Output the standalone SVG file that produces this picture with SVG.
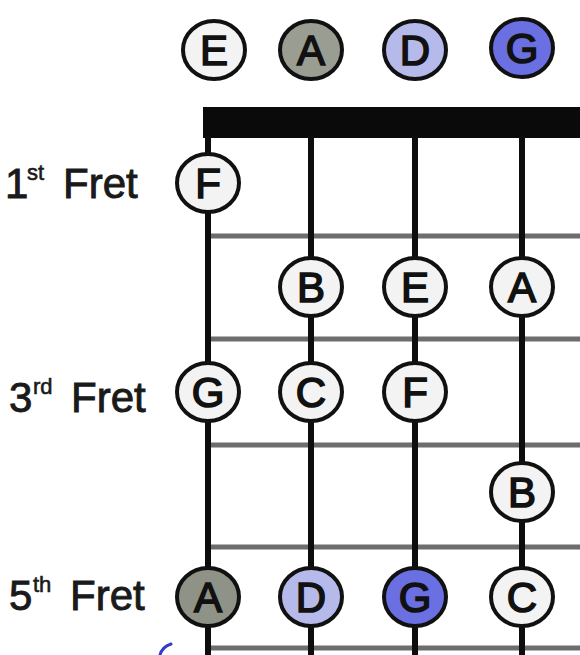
<svg xmlns="http://www.w3.org/2000/svg" width="580" height="655" viewBox="0 0 580 655">
<style>
.n{stroke:#111;stroke-width:4}
.w{fill:#f3f3f3}
.g{fill:#8f9387}
.lb{fill:#b6baea}
.b{fill:#6a6fe2}
.t{font-family:"Liberation Sans",Arial,sans-serif;font-size:42px;fill:#111;stroke:#111;stroke-width:1.6;text-anchor:middle}
.lab{font-family:"Liberation Sans",Arial,sans-serif;font-size:42px;fill:#1a1a1a;stroke:#1a1a1a;stroke-width:0.9}
.sup{font-size:22px;stroke-width:0.6}
.str{stroke:#0d0d0d;stroke-width:6}
.fret{stroke:#5e5e5e;stroke-width:5;opacity:0.9}
</style>
<rect width="580" height="655" fill="#ffffff"/>
<g id="board">
<rect x="203" y="107" width="377" height="31" fill="#0a0a0a"/>
<g id="frets">
<line class="fret" x1="211" y1="236" x2="580" y2="236"/>
<line class="fret" x1="211" y1="339" x2="580" y2="339"/>
<line class="fret" x1="211" y1="445" x2="580" y2="445"/>
<line class="fret" x1="211" y1="547" x2="580" y2="547"/>
<line class="fret" x1="211" y1="648" x2="580" y2="648"/>
</g>
<g id="strings">
<line class="str" x1="208" y1="136" x2="208" y2="655"/>
<line class="str" x1="311" y1="136" x2="311" y2="655"/>
<line class="str" x1="415" y1="136" x2="415" y2="655"/>
<line class="str" x1="522" y1="136" x2="522" y2="655"/>
</g>
</g>
<g id="labels">
<text class="lab" y="198"><tspan x="5">1</tspan><tspan class="sup" x="27" y="180">st</tspan><tspan x="63" y="198">Fret</tspan></text>
<text class="lab" y="412"><tspan x="9">3</tspan><tspan class="sup" x="33" y="394">rd</tspan><tspan x="71" y="412">Fret</tspan></text>
<text class="lab" y="610"><tspan x="9">5</tspan><tspan class="sup" x="33" y="592">th</tspan><tspan x="70" y="610">Fret</tspan></text>
</g>
<g id="open-E"><ellipse class="n w" cx="214" cy="50" rx="31" ry="29"/><text class="t" x="214" y="65">E</text></g>
<g id="open-A"><ellipse class="n g" cx="311" cy="50" rx="31" ry="29" style="fill:#9a9d92"/><text class="t" x="311" y="65">A</text></g>
<g id="open-D"><ellipse class="n lb" cx="415" cy="50" rx="31" ry="29"/><text class="t" x="415" y="65">D</text></g>
<g id="open-G"><ellipse class="n b" cx="522" cy="48" rx="31" ry="29"/><text class="t" x="522" y="63">G</text></g>
<g id="f1-F"><ellipse class="n w" cx="208" cy="183" rx="31" ry="29"/><text class="t" x="208" y="198">F</text></g>
<g id="f2-B"><ellipse class="n w" cx="311" cy="287" rx="31" ry="29"/><text class="t" x="311" y="302">B</text></g>
<g id="f2-E"><ellipse class="n w" cx="415" cy="287" rx="31" ry="29"/><text class="t" x="415" y="302">E</text></g>
<g id="f2-A"><ellipse class="n w" cx="522" cy="287" rx="31" ry="29"/><text class="t" x="522" y="302">A</text></g>
<g id="f3-G"><ellipse class="n w" cx="208" cy="392" rx="31" ry="29"/><text class="t" x="208" y="407">G</text></g>
<g id="f3-C"><ellipse class="n w" cx="311" cy="392" rx="31" ry="29"/><text class="t" x="311" y="407">C</text></g>
<g id="f3-F"><ellipse class="n w" cx="415" cy="392" rx="31" ry="29"/><text class="t" x="415" y="407">F</text></g>
<g id="f4-B"><ellipse class="n w" cx="522" cy="492" rx="31" ry="29"/><text class="t" x="522" y="507">B</text></g>
<g id="f5-A"><ellipse class="n g" cx="208" cy="597" rx="31" ry="29"/><text class="t" x="208" y="612">A</text></g>
<g id="f5-D"><ellipse class="n lb" cx="311" cy="597" rx="31" ry="29"/><text class="t" x="311" y="612">D</text></g>
<g id="f5-G"><ellipse class="n b" cx="415" cy="597" rx="31" ry="29"/><text class="t" x="415" y="612">G</text></g>
<g id="f5-C"><ellipse class="n w" cx="522" cy="597" rx="31" ry="29"/><text class="t" x="522" y="612">C</text></g>
<path d="M171 644 Q162 647 160 655" fill="none" stroke="#2f3ccf" stroke-width="3" stroke-linecap="round"/>
</svg>
